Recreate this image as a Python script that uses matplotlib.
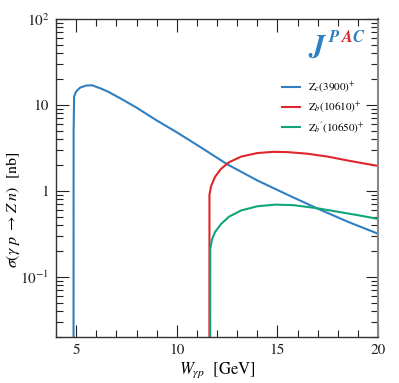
import matplotlib
matplotlib.use("Agg")
import matplotlib.pyplot as plt
from matplotlib.ticker import FixedLocator, LogLocator, NullFormatter, FixedFormatter

plt.rcParams['font.family'] = ['STIXGeneral', 'Liberation Serif', 'DejaVu Serif']
plt.rcParams['mathtext.fontset'] = 'stix'

# Z_c(3900)+
w_zc = [4.87, 4.875, 4.9, 5.0, 5.2, 5.5, 5.8, 6.2, 6.6, 7.2, 8.0, 9.0, 10.0, 11.2, 12.5, 14.0, 15.5, 17.0, 18.5, 20.0]
s_zc = [0.001, 5.0, 12.5, 14.3, 15.9, 16.8, 16.9, 15.6, 14.2, 11.9, 9.3, 6.6, 4.8, 3.2, 2.04, 1.32, 0.90, 0.62, 0.436, 0.316]
# Z_b(10610)+
w_zb = [11.62, 11.625, 11.7, 11.9, 12.2, 12.6, 13.2, 14.0, 14.8, 15.5, 16.5, 17.5, 18.5, 19.3, 20.0]
s_zb = [0.001, 0.9, 1.12, 1.45, 1.8, 2.15, 2.5, 2.75, 2.84, 2.82, 2.7, 2.5, 2.25, 2.08, 1.95]
# Z_b'(10650)+
w_zbp = [11.66, 11.665, 11.75, 11.9, 12.2, 12.6, 13.2, 14.0, 14.9, 15.8, 16.9, 18.0, 19.0, 20.0]
s_zbp = [0.001, 0.21, 0.27, 0.33, 0.41, 0.5, 0.59, 0.66, 0.69, 0.68, 0.63, 0.57, 0.52, 0.47]

labels = [r"$\mathrm{Z}_c(3900)^{+}$", r"$\mathrm{Z}_b(10610)^{+}$", r"$\mathrm{Z}_b{}'(10650)^{+}$"]
colors = ["#2f7fc1", "#e0262c", "#10a57a"]

x_ticks = [5, 10, 15, 20]
y_ticks = [0.1, 1, 10, 100]
y_ticklabels = [r"$10^{-1}$", "1", "10", r"$10^{2}$"]

fig = plt.figure(figsize=(3.99, 3.83), dpi=100)
ax = fig.add_axes([56/399, 1-336.7/383, (378-56)/399, (336.7-19)/383])

for w, s, lab, c in zip([w_zc, w_zb, w_zbp], [s_zc, s_zb, s_zbp], labels, colors):
    ax.plot(w, s, color=c, lw=1.5, label=lab)

ax.set_yscale('log')
ax.set_xlim(4, 20)
ax.set_ylim(0.02, 100)

ax.xaxis.set_major_locator(FixedLocator(x_ticks))
ax.xaxis.set_minor_locator(FixedLocator(list(range(4, 21))))
ax.yaxis.set_major_locator(FixedLocator(y_ticks))
ax.yaxis.set_major_formatter(FixedFormatter(y_ticklabels))
ax.yaxis.set_minor_locator(LogLocator(base=10, subs=range(2, 10)))
ax.yaxis.set_minor_formatter(NullFormatter())

ax.tick_params(which='both', direction='in', top=True, right=True, labelsize=11, colors='#222222')
ax.tick_params(which='major', length=9, width=0.8, pad=5)
ax.tick_params(which='minor', length=5, width=0.8)
for sp in ax.spines.values():
    sp.set_linewidth(1.0)
    sp.set_color('#333333')
ax.spines['right'].set_color('#888888')
ax.spines['right'].set_linewidth(1.5)

ax.set_xlabel(r"$W_{\gamma p}$  [GeV]", fontsize=12)
ax.xaxis.set_label_coords(0.5, -0.075)
ax.set_ylabel(r"$\sigma(\gamma\ p\ \to Z\ n)$  [nb]", fontsize=11.5)
ax.yaxis.set_label_coords(-0.105, 0.4)

leg = ax.legend(loc='upper right', bbox_to_anchor=(0.99, 0.84), frameon=False, fontsize=8,
                handlelength=1.7, handletextpad=0.7, labelspacing=0.32)

# JPAC logo
ax.text(0.81, 0.887, "J", transform=ax.transAxes, fontsize=22, fontweight='bold', style='italic',
        color="#2f7fc1", ha='center', va='baseline')
ax.text(0.862, 0.928, "P", transform=ax.transAxes, fontsize=12, fontweight='bold', style='italic',
        color="#2f7fc1", ha='center', va='baseline')
ax.text(0.902, 0.928, "A", transform=ax.transAxes, fontsize=12, fontweight='bold', style='italic',
        color="#e0262c", ha='center', va='baseline')
ax.text(0.938, 0.928, "C", transform=ax.transAxes, fontsize=12, fontweight='bold', style='italic',
        color="#2f7fc1", ha='center', va='baseline')

fig.savefig("out.png", dpi=100)
